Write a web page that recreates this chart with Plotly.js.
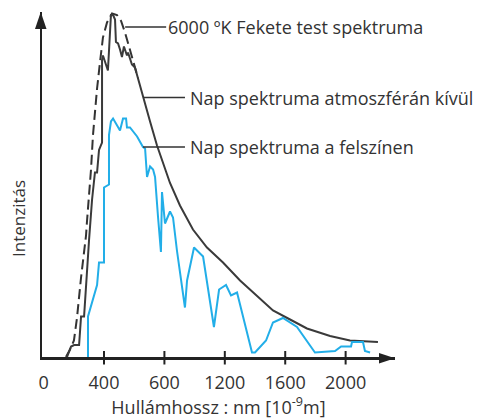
<!DOCTYPE html>
<html>
<head>
<meta charset="utf-8">
<script src="https://cdn.plot.ly/plotly-3.0.1.min.js"></script>
<style>
html,body{margin:0;padding:0;background:#ffffff;}
#chart{width:485px;height:419px;}
</style>
</head>
<body>
<div id="chart"></div>
<script>
// Wavelength in nm, intensity in arbitrary units
const bbNm = [148, 175, 201, 221, 248, 268, 281, 287, 301, 314, 327, 340, 354, 374, 393, 420, 453, 486, 513, 540, 566, 599, 625];
const bbI  = [0.00, 0.05, 0.11, 0.26, 0.53, 0.68, 0.81, 0.90, 1.08, 1.25, 1.48, 1.65, 1.79, 1.97, 2.13, 2.23, 2.29, 2.28, 2.24, 2.16, 2.07, 1.95, 1.86];

const etNm = [155, 182, 202, 235, 248, 268, 301, 321, 340, 354, 367, 387, 387, 393, 426, 446, 460, 473, 479, 493, 506, 519, 532, 552, 559, 585, 605, 658, 705, 751, 791, 837, 903, 989, 1082, 1188, 1301, 1413, 1519, 1632, 1744, 1897, 2029, 2214];
const etI  = [0.00, 0.07, 0.08, 0.08, 0.27, 0.27, 0.78, 1.05, 1.23, 1.23, 1.38, 1.43, 1.98, 2.01, 1.91, 2.28, 2.28, 2.25, 2.10, 2.09, 2.05, 2.00, 2.07, 2.01, 2.03, 1.95, 1.93, 1.73, 1.57, 1.41, 1.29, 1.16, 1.01, 0.85, 0.73, 0.63, 0.51, 0.41, 0.31, 0.25, 0.19, 0.14, 0.11, 0.10];

const sfNm = [294, 294, 354, 367, 400, 400, 433, 433, 446, 460, 506, 526, 546, 552, 572, 619, 658, 672, 685, 705, 725, 738, 758, 777, 784, 804, 837, 857, 883, 936, 950, 996, 1056, 1128, 1162, 1208, 1241, 1281, 1380, 1400, 1473, 1519, 1585, 1678, 1797, 1930, 1970, 2036, 2042, 2115, 2128, 2162];
const sfI  = [0.00, 0.27, 0.48, 0.63, 0.63, 1.13, 1.15, 1.48, 1.57, 1.59, 1.51, 1.59, 1.59, 1.53, 1.53, 1.47, 1.40, 1.39, 1.20, 1.27, 1.25, 1.20, 0.93, 0.70, 1.10, 0.89, 0.97, 0.93, 0.71, 0.33, 0.51, 0.73, 0.67, 0.20, 0.45, 0.48, 0.41, 0.43, 0.03, 0.03, 0.11, 0.23, 0.26, 0.20, 0.03, 0.04, 0.07, 0.07, 0.10, 0.10, 0.04, 0.03];

const tickVals = [0, 400, 800, 1200, 1600, 2000];
const tickText = ["0", "400", "600", "1200", "1600", "2000"];

const seriesNames = ["6000 ºK Fekete test spektruma", "Nap spektruma atmoszférán kívül", "Nap spektruma a felszínen"];
const xTitle = "Hullámhossz : nm [10<sup>-9</sup>m]";
const yTitle = "Intenzitás";

const textColor = "#333333";
const axisColor = "#222222";
const fam = "Open Sans, sans-serif";

const traces = [
  {x: bbNm, y: bbI, name: seriesNames[0], type: "scatter", mode: "lines",
   line: {color: "#333333", width: 2, dash: "10px,5px"}, hoverinfo: "skip"},
  {x: etNm, y: etI, name: seriesNames[1], type: "scatter", mode: "lines",
   line: {color: "#3a3a3a", width: 2}, hoverinfo: "skip"},
  {x: sfNm, y: sfI, name: seriesNames[2], type: "scatter", mode: "lines",
   line: {color: "#22aee8", width: 2}, hoverinfo: "skip"}
];

// tick marks crossing the x axis
const tickShapes = tickVals.filter(v => v > 0).map(v => ({
  type: "line", xref: "x", yref: "paper", x0: v, x1: v,
  ysizemode: "pixel", yanchor: 0, y0: -7.5, y1: 6,
  line: {color: axisColor, width: 2}
}));

const arrowShapes = [
  {type: "path", xref: "paper", yref: "paper", xsizemode: "pixel", ysizemode: "pixel",
   xanchor: 1, yanchor: 0, path: "M-16,4 L0,-1.25 L-16,-6.5 Z",
   fillcolor: axisColor, line: {width: 0}},
  {type: "path", xref: "paper", yref: "paper", xsizemode: "pixel", ysizemode: "pixel",
   xanchor: 0, yanchor: 1, path: "M-7,-17 L-1.25,0 L4.5,-17 Z",
   fillcolor: axisColor, line: {width: 0}}
];

const labelFont = {family: fam, size: 18, color: textColor};

const pointerAnn = (x, y, text, ax, standoff) => ({
  x: x, y: y, xref: "x", yref: "y", text: text,
  showarrow: true, arrowhead: 0, arrowwidth: 1.3, arrowcolor: "#333333",
  ax: ax, ay: 0, axref: "pixel", ayref: "pixel",
  xanchor: "left", yanchor: "middle", startstandoff: standoff,
  font: labelFont
});

const annotations = [
  pointerAnn(bbNm[19], bbI[19] + 0.04, seriesNames[0], 41, 0),
  pointerAnn(etNm[27], etI[27], seriesNames[1], 45, 3),
  pointerAnn(sfNm[16], sfI[16], seriesNames[2], 45, 3),
  {text: yTitle, xref: "paper", yref: "paper", x: 0, y: 0.40, xshift: -24,
   textangle: -90, showarrow: false, xanchor: "center", yanchor: "middle",
   font: {family: fam, size: 17, color: textColor}}
];

const layout = {
  width: 485, height: 419,
  margin: {l: 42, r: 90, t: 12, b: 62},
  paper_bgcolor: "#ffffff", plot_bgcolor: "#ffffff",
  showlegend: false,
  font: {family: fam, color: textColor},
  xaxis: {
    range: [-10.6, 2327], showgrid: false, zeroline: false,
    showline: true, linecolor: axisColor, linewidth: 2.5,
    tickmode: "array", tickvals: tickVals, ticktext: tickText, ticks: "",
    ticklabelstandoff: 8,
    tickfont: {family: fam, size: 18, color: textColor},
    title: {text: xTitle, font: {family: fam, size: 18, color: textColor}, standoff: 6}
  },
  yaxis: {
    range: [0, 2.3], showgrid: false, zeroline: false,
    showline: true, linecolor: axisColor, linewidth: 2.5,
    showticklabels: false, ticks: ""
  },
  shapes: tickShapes.concat(arrowShapes),
  annotations: annotations
};

Plotly.newPlot("chart", traces, layout, {displayModeBar: false, staticPlot: true});
</script>
</body>
</html>
